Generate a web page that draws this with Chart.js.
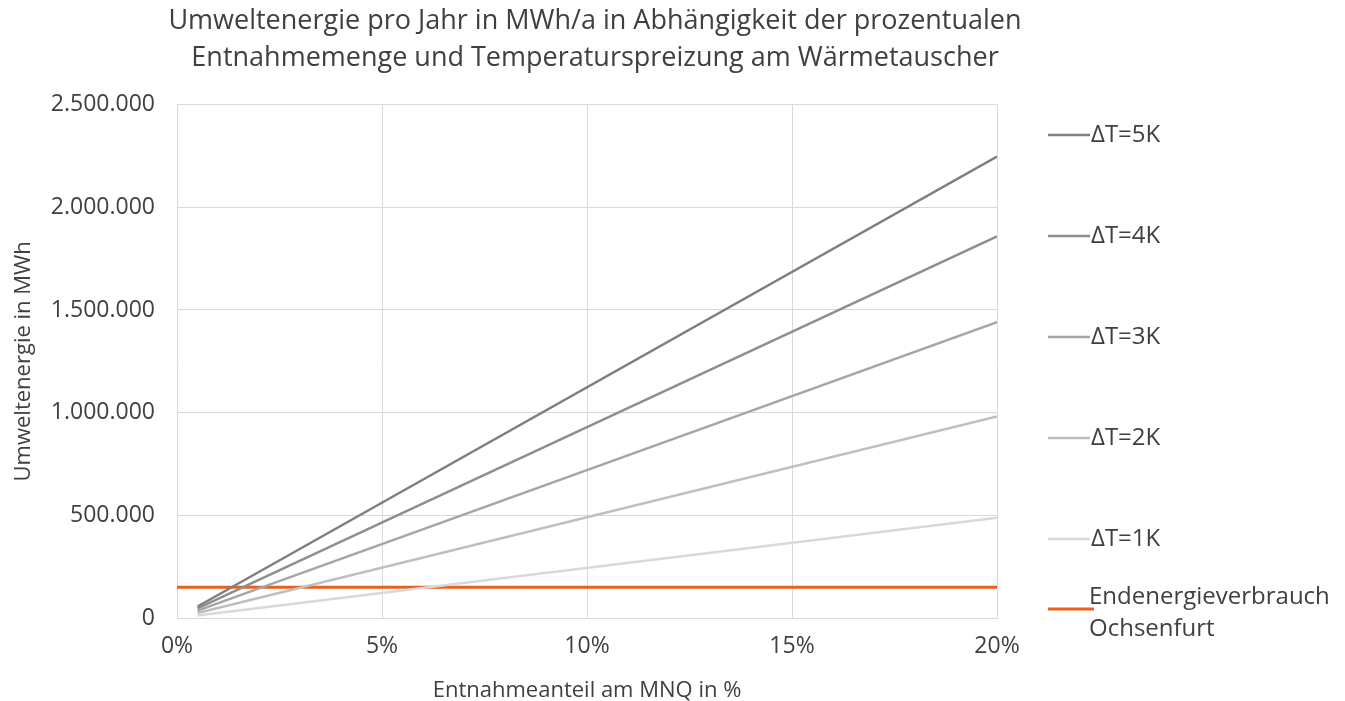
<!DOCTYPE html>
<html>
<head>
<meta charset="utf-8">
<script src="https://cdn.jsdelivr.net/npm/chart.js@4"></script>
<style>
  html, body { margin: 0; padding: 0; background: #fff; }
  #wrap { width: 1345px; height: 701px; }
</style>
</head>
<body>
<div id="wrap"><canvas id="chart" width="1345" height="701"></canvas></div>
<script>
// Entnahmeanteil am MNQ in % (Start- und Endpunkt der Geraden)
const entnahme = [0.5, 20];

const dT5 = [56000, 2247000];
const dT4 = [46500, 1858000];
const dT3 = [36000, 1441000];
const dT2 = [24500, 981000];
const dT1 = [12200, 488000];

const verbrauchX = [0, 20];
const verbrauch = [150000, 150000];

const seriesLabels = ['ΔT=5K', 'ΔT=4K', 'ΔT=3K', 'ΔT=2K', 'ΔT=1K', 'Endenergieverbrauch\nOchsenfurt'];
const yTicks = [0, 500000, 1000000, 1500000, 2000000, 2500000];
const xTicks = [0, 5, 10, 15, 20];

const FONT = "'Open Sans', 'Noto Sans', sans-serif";
const TEXT = '#404040';

function pts(xs, ys) {
    return xs.map((x, i) => ({x: x, y: ys[i]}));
}

function fmtDe(v) {
    return String(v).replace(/\B(?=(\d{3})+(?!\d))/g, '.');
}

const grays = ['#7f7f7f', '#8e8e8e', '#a6a6a6', '#bfbfbf', '#d9d9d9'];
const grayData = [dT5, dT4, dT3, dT2, dT1];

const datasets = grayData.map((d, i) => ({
    label: seriesLabels[i],
    data: pts(entnahme, d),
    borderColor: grays[i],
    borderWidth: 2.5,
    pointRadius: 0,
    fill: false
}));
datasets.push({
    label: seriesLabels[5],
    data: pts(verbrauchX, verbrauch),
    borderColor: '#e8601c',
    borderWidth: 3,
    pointRadius: 0,
    fill: false
});

// Titel über Diagramm + Legende zentrieren
const titleShift = {
    id: 'titleShift',
    afterLayout(chart) {
        chart.titleBlock.left = 0;
        chart.titleBlock.right = 1190;
    }
};

// Legende rechts neben dem Diagramm, wie im Original
const sideLegend = {
    id: 'sideLegend',
    afterDraw(chart) {
        const ctx = chart.ctx;
        const x0 = 1048;
        ctx.save();
        ctx.font = '24px ' + FONT;
        ctx.fillStyle = TEXT;
        ctx.textBaseline = 'middle';
        chart.data.datasets.forEach((ds, i) => {
            const lines = ds.label.split('\n');
            ctx.strokeStyle = ds.borderColor;
            ctx.lineWidth = ds.borderWidth;
            ctx.beginPath();
            if (lines.length > 1) {
                ctx.moveTo(x0, 609);
                ctx.lineTo(x0 + 46, 609);
                ctx.stroke();
                lines.forEach((t, j) => ctx.fillText(t, x0 + 41, 597 + j * 32));
            } else {
                const y = 135 + i * 101;
                ctx.moveTo(x0, y);
                ctx.lineTo(x0 + 42, y);
                ctx.stroke();
                ctx.fillText(lines[0], x0 + 43, y);
            }
        });
        ctx.restore();
    }
};

new Chart(document.getElementById('chart'), {
    type: 'line',
    data: {datasets: datasets},
    plugins: [titleShift, sideLegend],
    options: {
        responsive: false,
        animation: false,
        layout: {padding: {top: 2, right: 348, bottom: 0, left: 0}},
        plugins: {
            legend: {display: false},
            tooltip: {enabled: false},
            title: {
                display: true,
                text: ['Umweltenergie pro Jahr in MWh/a in Abhängigkeit der prozentualen',
                       'Entnahmemenge und Temperaturspreizung am Wärmetauscher'],
                color: TEXT,
                font: {family: FONT, size: 27, weight: 'normal', lineHeight: 1.4},
                padding: {top: 0, bottom: 27}
            }
        },
        scales: {
            x: {
                type: 'linear',
                min: 0,
                max: 20,
                afterBuildTicks: (s) => { s.ticks = xTicks.map(v => ({value: v})); },
                afterFit: (s) => { s.height = 83; },
                ticks: {
                    color: TEXT,
                    font: {family: FONT, size: 23},
                    padding: 15,
                    maxRotation: 0,
                    callback: (v) => v + '%'
                },
                grid: {color: '#d9d9d9', lineWidth: 1, drawTicks: false},
                border: {color: '#d9d9d9'},
                title: {
                    display: true,
                    text: 'Entnahmeanteil am MNQ in %',
                    color: TEXT,
                    font: {family: FONT, size: 22},
                    padding: {top: 0, bottom: -3}
                }
            },
            y: {
                min: 0,
                max: 2500000,
                afterBuildTicks: (s) => { s.ticks = yTicks.map(v => ({value: v})); },
                afterFit: (s) => { s.width = 177; },
                ticks: {
                    color: TEXT,
                    font: {family: FONT, size: 23},
                    padding: 22,
                    callback: (v) => fmtDe(v)
                },
                grid: {color: '#d9d9d9', lineWidth: 1, drawTicks: false},
                border: {color: '#d9d9d9'},
                title: {
                    display: true,
                    text: 'Umweltenergie in MWh',
                    color: TEXT,
                    font: {family: FONT, size: 22},
                    padding: {top: 11, bottom: 0}
                }
            }
        }
    }
});
</script>
</body>
</html>
